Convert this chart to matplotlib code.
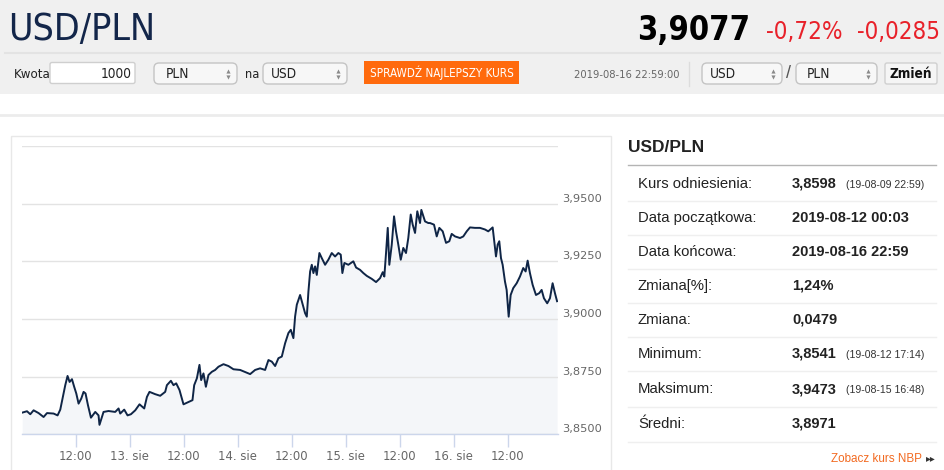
import matplotlib
matplotlib.use('Agg')
import matplotlib.pyplot as plt
import matplotlib.transforms as mtransforms
from matplotlib.patches import FancyBboxPatch, Rectangle
from matplotlib import font_manager

# --- data (hours since 2019-08-12 00:00, USD/PLN rate) ---
hours = [0.05, 1.11, 1.84, 2.58, 3.69, 4.80, 5.56, 7.02, 7.91, 8.51, 9.24, 9.62, 10.13, 10.58,
         11.11, 11.62, 12.07, 12.58, 13.18, 13.69, 14.13, 14.67, 15.33, 16.29, 17.02, 17.23,
         18.13, 19.24, 20.73, 21.47, 21.84, 22.73, 23.47, 24.22, 25.18, 26.13, 27.18, 27.78,
         28.35, 29.62, 30.73,
         31.84, 32.22, 33.11, 33.69, 34.29, 35.02, 35.91, 37.02, 37.91, 38.29, 38.89, 39.46,
         39.84, 40.35, 40.89, 41.46, 42.22, 42.95, 43.69, 44.80, 45.91, 47.02, 48.51, 50.00,
         50.73, 51.84, 52.95, 54.06, 54.80, 55.55, 56.29, 57.02, 57.77, 58.51, 59.24, 59.77,
         60.35, 60.73, 61.11, 61.62,
         61.84, 62.44, 62.95, 63.33, 63.69, 64.07, 64.44, 64.80, 65.18, 65.55, 66.13, 66.66,
         67.40, 68.13, 68.88, 69.62, 70.35, 70.88, 71.24, 71.69, 72.57, 73.68, 74.29, 75.17,
         75.91, 76.66, 77.77, 78.73, 79.62, 80.22, 80.57, 80.95, 81.33, 81.68, 82.22, 82.73,
         83.17, 83.68, 84.22, 84.79, 85.39, 85.90, 86.44, 86.88, 87.40, 87.90, 88.51, 88.80,
         89.62, 90.35,
         90.73, 91.62, 92.22, 92.80, 93.55, 94.29, 95.02, 95.55, 96.29, 97.40, 98.13, 98.89,
         99.62, 100.73, 101.84, 102.95, 103.68, 104.66, 105.02, 105.40, 105.77, 106.13, 106.51,
         106.88, 107.40, 107.77, 108.22, 108.66, 109.24, 110.00, 110.73, 111.46, 111.99, 112.44,
         112.95, 113.55, 114.29, 115.02, 115.55, 116.06, 116.79, 117.40, 117.99, 118.51, 118.98]

rates = [3.8594, 3.8600, 3.8587, 3.8604, 3.8592, 3.8575, 3.8592, 3.8590, 3.8582, 3.8607, 3.8677,
         3.8713, 3.8753, 3.8727, 3.8739, 3.8705, 3.8677, 3.8633, 3.8655, 3.8684, 3.8677, 3.8626,
         3.8572, 3.8597, 3.8582, 3.8541, 3.8597, 3.8601, 3.8597, 3.8612, 3.8590, 3.8607, 3.8582,
         3.8587, 3.8604, 3.8630, 3.8612, 3.8662, 3.8684, 3.8674, 3.8667,
         3.8684, 3.8713, 3.8732, 3.8713, 3.8721, 3.8692, 3.8630, 3.8640, 3.8648, 3.8713, 3.8743,
         3.8801, 3.8735, 3.8764, 3.8706, 3.8757, 3.8771, 3.8779, 3.8793, 3.8804, 3.8796, 3.8782,
         3.8779, 3.8767, 3.8761, 3.8779, 3.8786, 3.8779, 3.8822, 3.8815, 3.8796, 3.8830, 3.8837,
         3.8895, 3.8939, 3.8953, 3.8917, 3.9011, 3.9062, 3.9092,
         3.9104, 3.9061, 3.9025, 3.9010, 3.9119, 3.9206, 3.9235, 3.9199, 3.9228, 3.9191, 3.9286,
         3.9264, 3.9235, 3.9257, 3.9286, 3.9271, 3.9286, 3.9279, 3.9199, 3.9243, 3.9235, 3.9250,
         3.9223, 3.9213, 3.9199, 3.9187, 3.9174, 3.9160, 3.9177, 3.9203, 3.9184, 3.9286, 3.9395,
         3.9235, 3.9322, 3.9445, 3.9380, 3.9322, 3.9257, 3.9308, 3.9286, 3.9351, 3.9453, 3.9409,
         3.9373, 3.9467, 3.9416, 3.9473, 3.9423, 3.9416,
         3.9416, 3.9409, 3.9358, 3.9395, 3.9380, 3.9330, 3.9337, 3.9369, 3.9358, 3.9351, 3.9358,
         3.9380, 3.9397, 3.9395, 3.9395, 3.9388, 3.9380, 3.9397, 3.9337, 3.9271, 3.9322, 3.9337,
         3.9264, 3.9235, 3.9162, 3.9126, 3.9010, 3.9104, 3.9134, 3.9155, 3.9184, 3.9221, 3.9206,
         3.9253, 3.9199, 3.9148, 3.9104, 3.9112, 3.9126, 3.9090, 3.9068, 3.9090, 3.9155, 3.9112,
         3.9077]

x_ticks = [12, 24, 36, 48, 60, 72, 84, 96, 108]
x_labels = ['12:00', '13. sie', '12:00', '14. sie', '12:00', '15. sie', '12:00', '16. sie', '12:00']
y_ticks = [3.85, 3.875, 3.90, 3.925, 3.95, 3.975]
y_labels = ['3,8500', '3,8750', '3,9000', '3,9250', '3,9500', '']

pair = 'USD/PLN'
last_rate = '3,9077'
change_pct = '-0,72%'
change_abs = '-0,0285'
quote_time = '2019-08-16 22:59:00'

stat_labels = ['Kurs odniesienia:', 'Data początkowa:', 'Data końcowa:', 'Zmiana[%]:',
               'Zmiana:', 'Minimum:', 'Maksimum:', 'Średni:']
stat_values = ['3,8598', '2019-08-12 00:03', '2019-08-16 22:59', '1,24%',
               '0,0479', '3,8541', '3,9473', '3,8971']
stat_notes = ['(19-08-09 22:59)', '', '', '', '', '(19-08-12 17:14)', '(19-08-15 16:48)', '']


# pick a narrow face for the header texts if one is installed
NARROW = dict(family='Liberation Sans')
names = {(f.name, str(f.stretch)) for f in font_manager.fontManager.ttflist}
if any(n == 'Liberation Sans Narrow' for n, _ in names):
    NARROW = dict(family='Liberation Sans Narrow')
elif ('DejaVu Sans', 'condensed') in names or ('DejaVu Sans', '75') in names:
    NARROW = dict(family='DejaVu Sans', stretch='condensed')
ARIAL = 'Liberation Sans'

W, H = 945, 470
fig = plt.figure(figsize=(W / 100, H / 100), dpi=100, facecolor='white')
renderer = fig.canvas.get_renderer()

# page layer in pixel coordinates
page = fig.add_axes([0, 0, 1, 1], zorder=0)
page.set_xlim(0, W)
page.set_ylim(H, 0)
page.axis('off')


def ntext(x, y, s, width, size, slack=1.0, **kw):
    # narrow text; shrink it if it runs much wider than in the reference
    t = page.text(x, y, s, fontsize=size, **NARROW, **kw)
    w = t.get_window_extent(renderer).width
    if slack == 1.0 or w > width * slack:
        t.set_fontsize(size * width * slack / w)
    return t


def box(x0, y0, x1, y1, fc, ec, r=3, lw=1.0):
    page.add_patch(FancyBboxPatch((x0, y0), x1 - x0, y1 - y0,
                                  boxstyle=f'round,pad=0,rounding_size={r}',
                                  fc=fc, ec=ec, lw=lw))


def select(x0, x1, label, tx, tw):
    box(x0, 63, x1, 84, '#f7f7f7', '#c4c4c4', r=5)
    ntext(tx, 74, label, tw, 9.8, slack=1.25, color='#222', va='center')
    page.plot([x1 - 9.5], [71], marker='^', ms=3, color='#8a8a8a', mew=0)
    page.plot([x1 - 9.5], [76.5], marker='v', ms=3, color='#8a8a8a', mew=0)


# header
page.add_patch(Rectangle((0, 0), W, 93.5, fc='#f0f0f0', ec='none'))
page.plot([5, 940], [52.5, 52.5], color='#e3e3e3', lw=1.5)
ntext(8, 40, pair, 147, 30, color='#13264a', va='baseline')
ntext(637, 40, last_rate, 113, 32, weight='bold', color='black', va='baseline')
ntext(766, 39.5, change_pct, 77, 21.5, color='#e8212a', va='baseline')
ntext(857, 39.5, change_abs, 83, 21.5, color='#e8212a', va='baseline')

# controls row
ntext(14, 74, 'Kwota', 32, 9.8, slack=1.15, color='#222', va='center')
box(50, 62.5, 135, 83.5, 'white', '#cfcfcf', r=2)
page.text(132, 74, '1000', fontsize=9.8, color='#222', va='center', ha='right', **NARROW)
select(154, 237, 'PLN', 165.7, 19)
ntext(245, 74, 'na', 11.5, 9.8, slack=1.25, color='#222', va='center')
select(263, 347, 'USD', 271, 25)
page.add_patch(Rectangle((364, 61), 155, 23, fc='#ff6a0d', ec='none'))
page.text(441.5, 72.5, 'SPRAWDŹ NAJLEPSZY KURS', fontsize=8.4, color='white',
          ha='center', va='center', **NARROW)
page.text(680, 74.5, quote_time, fontsize=8.0, color='#666', ha='right', va='center', **NARROW)
page.plot([689, 689], [62, 86], color='#dcdcdc', lw=1)
select(702, 782, 'USD', 710, 24)
page.text(789, 74, '/', family=ARIAL, fontsize=13, color='#555', ha='center', va='center')
select(796, 877, 'PLN', 807, 22)
box(885, 63, 937, 84, '#f5f5f5', '#d0d0d0', r=2)
page.text(911, 74, 'Zmień', fontsize=9.8, color='#111', weight='bold', ha='center', va='center',
          **NARROW)

page.plot([0, W], [114.5, 114.5], color='#ececec', lw=2)

# chart panel frame
page.add_patch(Rectangle((11, 136), 600, 345, fc='none', ec='#e8e8e8', lw=1))

# stats panel
page.text(628, 148, pair, family=ARIAL, fontsize=12.5, weight='bold', color='#222', va='center')
page.plot([628, 936], [165, 165], color='#b4b4b4', lw=1)
row_y = [183.5, 218, 252, 286, 320, 354, 389, 424]
sep_y = [201, 235.3, 269.3, 303.3, 336.7, 371, 406.7, 441.7]
for yy, lab, val, note in zip(row_y, stat_labels, stat_values, stat_notes):
    page.text(638, yy, lab, family=ARIAL, fontsize=10.7, color='#222', va='center')
    page.text(792, yy, val, family=ARIAL, fontsize=10.5, weight='bold', color='#222', va='center')
    if note:
        page.text(846, yy + 1, note, family=ARIAL, fontsize=7.6, color='#333', va='center')
for yy in sep_y:
    page.plot([628, 936], [yy, yy], color='#efefef', lw=1)
page.text(922, 458.5, 'Zobacz kurs NBP', family=ARIAL, fontsize=8.4, color='#f26a21',
          ha='right', va='center')
page.text(931, 458.5, '▸▸', family='DejaVu Sans', fontsize=7, color='#333',
          ha='center', va='center')

# chart
ax = fig.add_axes([22 / W, 1 - 434.3 / H, 536.5 / W, (434.3 - 146) / H], zorder=1)
ax.set_facecolor('none')
ax.fill_between(hours, rates, 3.85, color='#f4f6f9', lw=0, zorder=0.2)
ax.plot(hours, rates, color='#0f2546', lw=1.4, zorder=2)
ax.set_xlim(0, 119.3)
ax.set_ylim(3.85, 3.975)
ax.set_axisbelow(True)
ax.grid(axis='y', color='#e3e3e3', lw=1)

ax.set_yticks(y_ticks)
ax.set_yticklabels(y_labels)
ax.yaxis.tick_right()
ax.tick_params(axis='y', length=0, pad=2.5, labelcolor='#666666', labelsize=8.2)
offset = mtransforms.ScaledTranslation(0, 0.06, fig.dpi_scale_trans)
for lbl in ax.get_yticklabels():
    lbl.set_transform(lbl.get_transform() + offset)

ax.set_xticks(x_ticks)
ax.set_xticklabels(x_labels)
ax.tick_params(axis='x', length=9, width=1, color='#ccd6eb', pad=2, labelcolor='#666666',
               labelsize=8.4)
for s in ['top', 'left', 'right']:
    ax.spines[s].set_visible(False)
ax.spines['bottom'].set_color('#ccd6eb')
ax.spines['bottom'].set_linewidth(1)

fig.savefig('out.png', dpi=100, facecolor='white')
